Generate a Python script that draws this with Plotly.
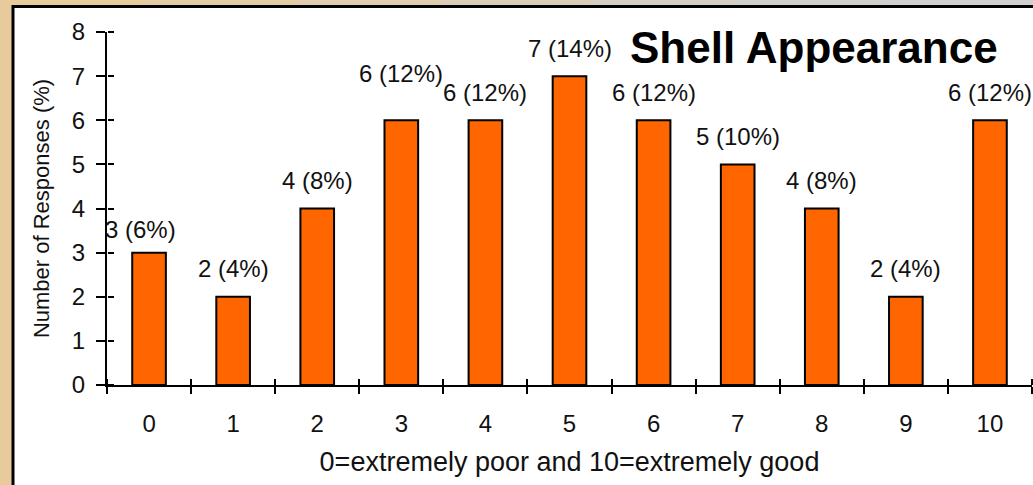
import plotly.graph_objects as go

# Survey results: rating of shell appearance
scores = ["0", "1", "2", "3", "4", "5", "6", "7", "8", "9", "10"]
responses = [3, 2, 4, 6, 6, 7, 6, 5, 4, 2, 6]
percents = [6, 4, 8, 12, 12, 14, 12, 10, 8, 4, 12]
y_ticks = [0, 1, 2, 3, 4, 5, 6, 7, 8]

W, H = 1033, 485
M_L, M_R, M_T, M_B = 107, 1, 32, 100
plot_w = W - M_L - M_R
plot_h = H - M_T - M_B

FONT = "Liberation Sans, Arial, sans-serif"
ORANGE = "#FF6600"
TAN = "#E8CB9C"
TXT = "#111111"

fig = go.Figure()

fig.add_trace(go.Bar(
    x=scores, y=responses,
    marker=dict(color=ORANGE, line=dict(color="black", width=2)),
    width=0.4, hoverinfo="skip", showlegend=False,
))
# invisible copy on mirror axes, used only to draw the inner half of each tick
fig.add_trace(go.Bar(
    x=scores, y=responses, xaxis="x2", yaxis="y2",
    marker=dict(color="rgba(0,0,0,0)", line=dict(width=0)), width=0.4,
    hoverinfo="skip", showlegend=False,
))

# value labels above bars; a couple are nudged to avoid crowding
nudge = {0: (-9, -5), 3: (0, 19)}
for i, (s, n, p) in enumerate(zip(scores, responses, percents)):
    dx, dy = nudge.get(i, (0, 0))
    fig.add_annotation(
        x=s, y=n, text=f"{n} ({p}%)", showarrow=False,
        yshift=28 + dy, xshift=dx,
        font=dict(family=FONT, size=24, color=TXT),
    )

fig.add_annotation(
    xref="paper", yref="paper", x=1.0, y=1.0, xanchor="right", yanchor="middle",
    xshift=-32, yshift=-15,
    text="<b>Shell Appearance</b>", showarrow=False,
    font=dict(family=FONT, size=44, color="black"),
)

# background frame: tan border with a greyish gradient along the top edge
px = lambda v: (v - M_L) / plot_w
py = lambda v: 1 - (v - M_T) / plot_h
shapes = []
top_cols = ["#E8CB9C", "#E4CBA4", "#DFCCAE", "#DACDB8", "#D5CEC2", "#D1CFCB", "#D0D0D0"]
seg = W / len(top_cols)
for k, c in enumerate(top_cols):
    shapes.append(dict(type="rect", xref="paper", yref="paper", layer="below",
                       x0=px(k * seg), x1=px((k + 1) * seg + 1), y0=py(7), y1=py(-2),
                       fillcolor=c, line=dict(width=0)))
shapes.append(dict(type="rect", xref="paper", yref="paper", layer="below",
                   x0=px(13), x1=px(W + 10), y0=py(H + 10), y1=py(6.5),
                   fillcolor="white", line=dict(color="black", width=3)))

axis_common = dict(
    showgrid=False, zeroline=False, linecolor="black", linewidth=2,
    tickcolor="black", tickwidth=2,
    tickfont=dict(family=FONT, size=24, color=TXT),
)

fig.update_layout(
    width=W, height=H,
    margin=dict(l=M_L, r=M_R, t=M_T, b=M_B),
    paper_bgcolor=TAN, plot_bgcolor="rgba(0,0,0,0)",
    shapes=shapes,
    xaxis=dict(
        **axis_common, type="category", range=[-0.5, 10.5],
        showline=True, ticks="outside", ticklen=7, tickson="boundaries",
        ticklabelstandoff=16,
        title=dict(text="0=extremely poor and 10=extremely good",
                   font=dict(family=FONT, size=27, color=TXT), standoff=16),
    ),
    yaxis=dict(
        **axis_common, range=[0, 8], tickvals=y_ticks,
        showline=True, ticks="outside", ticklen=9,
        ticklabelstandoff=6,
        title=dict(text="Number of Responses (%)",
                   font=dict(family=FONT, size=22, color=TXT), standoff=16),
    ),
    # mirror axes sitting on the main axis lines, ticks pointing into the plot
    xaxis2=dict(
        type="category", range=[-0.5, 10.5], overlaying="x", side="top",
        anchor="free", position=0,
        showgrid=False, zeroline=False, showline=False, showticklabels=False,
        ticks="outside", ticklen=6, tickwidth=2, tickcolor="black", tickson="boundaries",
    ),
    yaxis2=dict(
        range=[0, 8], tickvals=y_ticks, overlaying="y", side="right",
        anchor="free", position=0,
        showgrid=False, zeroline=False, showline=False, showticklabels=False,
        ticks="outside", ticklen=6, tickwidth=2, tickcolor="black",
    ),
    bargap=0.6,
)

fig.write_html("out.html")
